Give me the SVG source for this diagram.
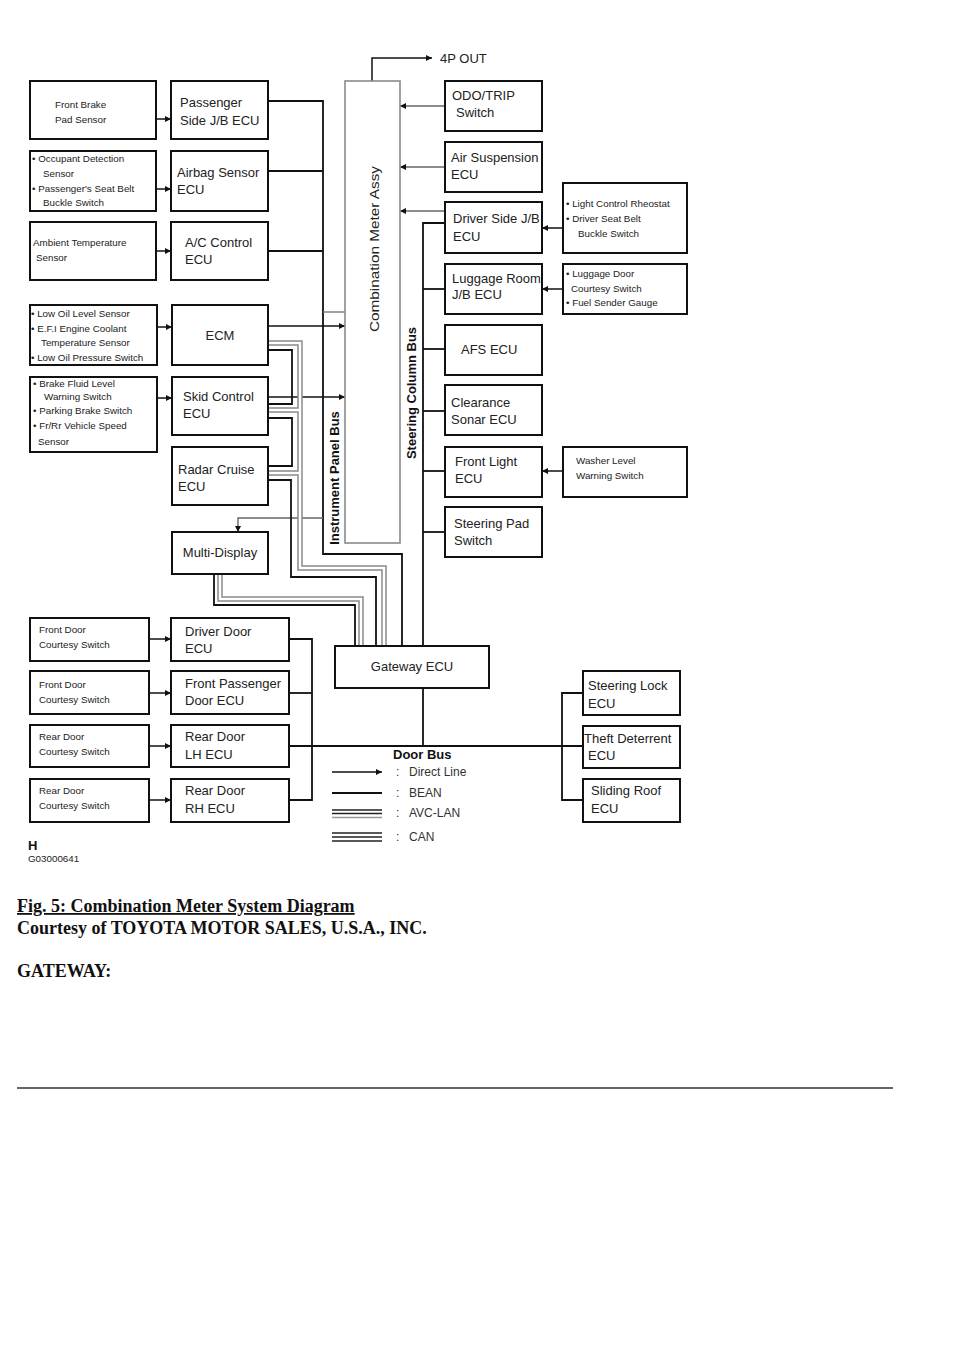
<svg xmlns="http://www.w3.org/2000/svg" width="960" height="1358" viewBox="0 0 960 1358">
<style>
.box{fill:#fff;stroke:#111;stroke-width:2}
.meter{fill:#fff;stroke:#8a8a8a;stroke-width:1.6}
.t{font-family:"Liberation Sans",Arial,sans-serif;font-size:13px;fill:#222}
.s{font-family:"Liberation Sans",Arial,sans-serif;font-size:9.8px;fill:#222}
.b{font-family:"Liberation Sans",Arial,sans-serif;font-size:13px;font-weight:bold;fill:#111}
.lg{font-family:"Liberation Sans",Arial,sans-serif;font-size:12px;fill:#333}
.ln{stroke:#111;stroke-width:1.8;fill:none}
.gl{stroke:#777;stroke-width:1.4;fill:none}
.ar{stroke:#111;stroke-width:1.5;fill:none;marker-end:url(#ah)}
.arg{stroke:#666;stroke-width:1.4;fill:none;marker-end:url(#ah)}
.g2{stroke:#8a8a8a;stroke-width:5.5;fill:none}
.g2w{stroke:#fff;stroke-width:2.5;fill:none}
.pg{font-family:"Liberation Serif","Times New Roman",serif;font-size:18px;font-weight:bold;fill:#111}
</style>
<defs>
<marker id="ah" viewBox="0 0 10 10" refX="10" refY="5" markerWidth="8" markerHeight="6" orient="auto" markerUnits="userSpaceOnUse"><path d="M0,0 L10,5 L0,10 z" fill="#111"/></marker>
</defs>

<g id="connectors">
  <!-- instrument panel bus -->
  <path class="ln" d="M268,101 H323 V554 H402 V646"/>
  <path class="ln" d="M268,171 H323"/>
  <path class="ln" d="M268,251 H323"/>
  <path class="gl" d="M323,312 H345"/>
  <!-- steering column bus -->
  <path class="ln" d="M445,223 H423 V646"/>
  <path class="ln" d="M445,289 H423"/>
  <path class="ln" d="M445,349 H423"/>
  <path class="ln" d="M445,411 H423"/>
  <path class="ln" d="M445,471 H423"/>
  <path class="ln" d="M445,532 H423"/>
  <!-- direct lines -->
  <path class="ar" d="M156,119 H171"/>
  <path class="ar" d="M156,189 H171"/>
  <path class="ar" d="M156,251 H171"/>
  <path class="ar" d="M157,327 H172"/>
  <path class="ar" d="M157,398 H172"/>
  <path class="ar" d="M268,326 H345"/>
  <path class="ar" d="M268,397 H345"/>
  <path class="arg" d="M445,106 H400"/>
  <path class="arg" d="M445,167 H400"/>
  <path class="arg" d="M445,211 H400"/>
  <path class="ar" d="M563,228 H542"/>
  <path class="ar" d="M563,289 H542"/>
  <path class="ar" d="M563,471 H542"/>
  <path class="ar" d="M372,81 V58 H432"/>
  <path class="arg" d="M323,518 H238 V532"/>
  <path class="ar" d="M149,639 H171"/>
  <path class="ar" d="M149,693 H171"/>
  <path class="ar" d="M149,746 H171"/>
  <path class="ar" d="M149,800 H171"/>
  <!-- CAN bundle -->
  <path class="g2" d="M268,343 H300 V568 H384 V646"/>
  <path class="g2" d="M268,410 H300"/>
  <path class="g2" d="M268,473 H300"/>
  <path class="g2w" d="M268,343 H300 V568 H384 V646"/>
  <path class="g2w" d="M268,410 H300"/>
  <path class="g2w" d="M268,473 H300"/>
  <path class="ln" d="M268,350 H292 V404 H268"/>
  <path class="ln" d="M268,418 H292 V466 H268"/>
  <path class="ln" d="M268,480 H291 V577 H376 V646"/>
  <!-- AVC-LAN from Multi-Display -->
  <path class="g2" d="M220,574 V599 H361 V646"/>
  <path class="g2w" d="M220,574 V599 H361 V646"/>
  <path class="ln" d="M214,574 V605 H355 V646"/>
  <!-- door bus -->
  <path class="ln" d="M289,639 H312 V800 H289"/>
  <path class="ln" d="M289,693 H312"/>
  <path class="ln" d="M289,746 H583"/>
  <path class="ln" d="M423,688 V746"/>
  <path class="ln" d="M583,693 H562 V800 H583"/>
  <!-- legend -->
  <path class="ar" d="M332,772 H382"/>
  <path class="ln" d="M332,793 H382"/>
  <path stroke="#222" stroke-width="1.4" d="M332,810 H382 M332,813.5 H382"/>
  <path stroke="#999" stroke-width="1.4" d="M332,817.5 H382"/>
  <path stroke="#222" stroke-width="1.4" d="M332,833 H382 M332,837 H382 M332,841 H382"/>
</g>

<g id="meter">
  <rect class="meter" x="345" y="81" width="55" height="462"/>
  <text class="t" font-size="14.5" transform="rotate(-90 379 249)" x="379" y="249" text-anchor="middle" textLength="166" lengthAdjust="spacingAndGlyphs">Combination Meter Assy</text>
</g>
<text class="t" x="440" y="63" font-size="12">4P OUT</text>
<text class="b" transform="rotate(-90 416 393)" x="416" y="393" text-anchor="middle">Steering Column Bus</text>
<text class="b" transform="rotate(-90 339 478)" x="339" y="478" text-anchor="middle">Instrument Panel Bus</text>

<g id="front-brake"><rect class="box" x="30" y="81" width="126" height="58"/><text class="s" x="55" y="108">Front Brake</text><text class="s" x="55" y="123">Pad Sensor</text></g>
<g id="passenger-jb"><rect class="box" x="171" y="81" width="97" height="58"/><text class="t" x="180" y="107">Passenger</text><text class="t" x="180" y="125">Side J/B ECU</text></g>
<g id="occupant"><rect class="box" x="30" y="151" width="126" height="60"/><text class="s" x="32" y="162">• Occupant Detection</text><text class="s" x="43" y="177">Sensor</text><text class="s" x="32" y="192">• Passenger's Seat Belt</text><text class="s" x="43" y="206">Buckle Switch</text></g>
<g id="airbag"><rect class="box" x="171" y="151" width="97" height="60"/><text class="t" x="177" y="177">Airbag Sensor</text><text class="t" x="177" y="194">ECU</text></g>
<g id="ambient"><rect class="box" x="30" y="222" width="126" height="58"/><text class="s" x="33" y="246">Ambient Temperature</text><text class="s" x="36" y="261">Sensor</text></g>
<g id="ac"><rect class="box" x="171" y="222" width="97" height="58"/><text class="t" x="185" y="247">A/C Control</text><text class="t" x="185" y="264">ECU</text></g>

<g id="low-oil"><rect class="box" x="30" y="305" width="127" height="60"/><text class="s" x="31" y="317">• Low Oil Level Sensor</text><text class="s" x="31" y="332">• E.F.I Engine Coolant</text><text class="s" x="41" y="346">Temperature Sensor</text><text class="s" x="31" y="361">• Low Oil Pressure Switch</text></g>
<g id="ecm"><rect class="box" x="172" y="305" width="96" height="60"/><text class="t" x="220" y="340" text-anchor="middle">ECM</text></g>
<g id="brake-fluid"><rect class="box" x="30" y="377" width="127" height="75"/><text class="s" x="33" y="387">• Brake Fluid  Level</text><text class="s" x="44" y="400">Warning Switch</text><text class="s" x="33" y="414">• Parking Brake Switch</text><text class="s" x="33" y="429">• Fr/Rr Vehicle Speed</text><text class="s" x="38" y="445">Sensor</text></g>
<g id="skid"><rect class="box" x="172" y="377" width="96" height="58"/><text class="t" x="183" y="401">Skid Control</text><text class="t" x="183" y="418">ECU</text></g>
<g id="radar"><rect class="box" x="172" y="447" width="96" height="58"/><text class="t" x="178" y="474">Radar Cruise</text><text class="t" x="178" y="491">ECU</text></g>
<g id="multi-display"><rect class="box" x="172" y="532" width="96" height="42"/><text class="t" x="220" y="557" text-anchor="middle">Multi-Display</text></g>

<g id="odo"><rect class="box" x="445" y="81" width="97" height="50"/><text class="t" x="452" y="100">ODO/TRIP</text><text class="t" x="456" y="117">Switch</text></g>
<g id="air-susp"><rect class="box" x="445" y="142" width="97" height="50"/><text class="t" x="451" y="162">Air Suspension</text><text class="t" x="451" y="179">ECU</text></g>
<g id="driver-jb"><rect class="box" x="445" y="202" width="97" height="51"/><text class="t" x="453" y="223">Driver Side J/B</text><text class="t" x="453" y="241">ECU</text></g>
<g id="luggage-jb"><rect class="box" x="445" y="264" width="97" height="50"/><text class="t" x="452" y="283">Luggage Room</text><text class="t" x="452" y="299">J/B ECU</text></g>
<g id="afs"><rect class="box" x="445" y="325" width="97" height="50"/><text class="t" x="461" y="354">AFS ECU</text></g>
<g id="sonar"><rect class="box" x="445" y="385" width="97" height="50"/><text class="t" x="451" y="407">Clearance</text><text class="t" x="451" y="424">Sonar ECU</text></g>
<g id="front-light"><rect class="box" x="445" y="447" width="97" height="50"/><text class="t" x="455" y="466">Front Light</text><text class="t" x="455" y="483">ECU</text></g>
<g id="steering-pad"><rect class="box" x="445" y="507" width="97" height="50"/><text class="t" x="454" y="528">Steering Pad</text><text class="t" x="454" y="545">Switch</text></g>

<g id="light-control"><rect class="box" x="563" y="183" width="124" height="70"/><text class="s" x="566" y="207">• Light Control Rheostat</text><text class="s" x="566" y="222">• Driver Seat Belt</text><text class="s" x="578" y="237">Buckle Switch</text></g>
<g id="luggage-door"><rect class="box" x="563" y="264" width="124" height="50"/><text class="s" x="566" y="277">• Luggage Door</text><text class="s" x="571" y="292">Courtesy Switch</text><text class="s" x="566" y="306">• Fuel Sender Gauge</text></g>
<g id="washer"><rect class="box" x="563" y="447" width="124" height="50"/><text class="s" x="576" y="464">Washer Level</text><text class="s" x="576" y="479">Warning Switch</text></g>

<g id="fd-switch-1"><rect class="box" x="30" y="618" width="119" height="43"/><text class="s" x="39" y="633">Front Door</text><text class="s" x="39" y="648">Courtesy Switch</text></g>
<g id="driver-door"><rect class="box" x="171" y="618" width="118" height="43"/><text class="t" x="185" y="636">Driver Door</text><text class="t" x="185" y="653">ECU</text></g>
<g id="fd-switch-2"><rect class="box" x="30" y="671" width="119" height="43"/><text class="s" x="39" y="688">Front Door</text><text class="s" x="39" y="703">Courtesy Switch</text></g>
<g id="front-pass-door"><rect class="box" x="171" y="671" width="118" height="43"/><text class="t" x="185" y="688">Front Passenger</text><text class="t" x="185" y="705">Door ECU</text></g>
<g id="rd-switch-1"><rect class="box" x="30" y="725" width="119" height="42"/><text class="s" x="39" y="740">Rear Door</text><text class="s" x="39" y="755">Courtesy Switch</text></g>
<g id="rear-lh"><rect class="box" x="171" y="725" width="118" height="42"/><text class="t" x="185" y="741">Rear Door</text><text class="t" x="185" y="759">LH ECU</text></g>
<g id="rd-switch-2"><rect class="box" x="30" y="779" width="119" height="43"/><text class="s" x="39" y="794">Rear Door</text><text class="s" x="39" y="809">Courtesy Switch</text></g>
<g id="rear-rh"><rect class="box" x="171" y="779" width="118" height="43"/><text class="t" x="185" y="795">Rear Door</text><text class="t" x="185" y="813">RH ECU</text></g>

<g id="gateway"><rect class="box" x="335" y="646" width="154" height="42"/><text class="t" x="412" y="671" text-anchor="middle">Gateway ECU</text></g>
<g id="steering-lock"><rect class="box" x="583" y="671" width="97" height="44"/><text class="t" x="588" y="690">Steering Lock</text><text class="t" x="588" y="708">ECU</text></g>
<g id="theft"><rect class="box" x="583" y="726" width="97" height="42"/><text class="t" x="584" y="743">Theft Deterrent</text><text class="t" x="588" y="760">ECU</text></g>
<g id="sliding-roof"><rect class="box" x="583" y="779" width="97" height="43"/><text class="t" x="591" y="795">Sliding Roof</text><text class="t" x="591" y="813">ECU</text></g>

<text class="b" x="393" y="759">Door Bus</text>
<g id="legend">
  <text class="lg" x="396" y="776">:</text><text class="lg" x="409" y="776">Direct Line</text>
  <text class="lg" x="396" y="797">:</text><text class="lg" x="409" y="797">BEAN</text>
  <text class="lg" x="396" y="817" fill="#999">:</text><text class="lg" x="409" y="817">AVC-LAN</text>
  <text class="lg" x="396" y="841">:</text><text class="lg" x="409" y="841">CAN</text>
</g>
<text class="b" x="28" y="850" font-size="11">H</text>
<text class="s" x="28" y="862" font-size="8">G03000641</text>

<text class="pg" x="17" y="912" text-decoration="underline">Fig. 5: Combination Meter System Diagram</text>
<text class="pg" x="17" y="934">Courtesy of TOYOTA MOTOR SALES, U.S.A., INC.</text>
<text class="pg" x="17" y="977">GATEWAY:</text>
<line x1="17" y1="1088" x2="893" y2="1088" stroke="#333" stroke-width="1.5"/>
</svg>
